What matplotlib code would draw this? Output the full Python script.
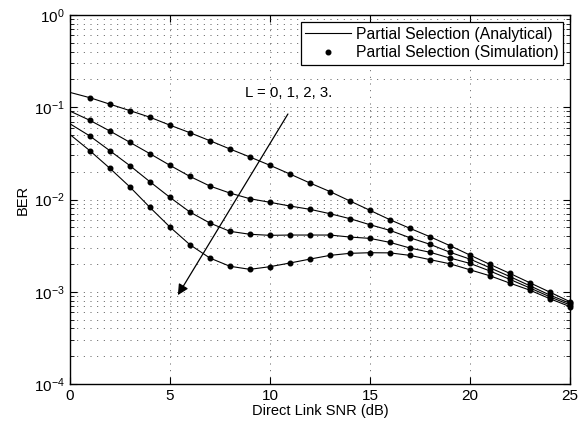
import matplotlib
matplotlib.use("Agg")
import matplotlib.pyplot as plt
from matplotlib.ticker import LogLocator, NullFormatter, MultipleLocator

plt.rcParams['font.family'] = ['Liberation Sans', 'DejaVu Sans']

# Direct link SNR (dB)
snr = list(range(0, 26))

# BER for L = 0, 1, 2, 3
ber_l0 = [0.145, 0.127, 0.108, 0.092, 0.078, 0.064, 0.053, 0.0434, 0.0353, 0.0289,
          0.0235, 0.0189, 0.0151, 0.0122, 0.00964, 0.00764, 0.00604, 0.00487, 0.00395,
          0.00316, 0.0025, 0.00198, 0.00158, 0.00125, 0.00099, 0.00078]
ber_l1 = [0.091, 0.0722, 0.0553, 0.0417, 0.0314, 0.0235, 0.0178, 0.014, 0.01175, 0.0102,
          0.00933, 0.0085, 0.00783, 0.00702, 0.0062, 0.00533, 0.00463, 0.00385, 0.00327,
          0.00268, 0.00226, 0.00182, 0.00146, 0.00116, 0.00092, 0.00075]
ber_l2 = [0.0663, 0.0488, 0.0338, 0.0233, 0.0156, 0.01056, 0.00732, 0.00556, 0.00452, 0.0042,
          0.00409, 0.00412, 0.00412, 0.00412, 0.00392, 0.00379, 0.00343, 0.00298, 0.00268,
          0.00232, 0.00203, 0.00168, 0.00136, 0.0011, 0.00088, 0.00072]
ber_l3 = [0.0508, 0.0338, 0.0218, 0.0137, 0.00822, 0.00504, 0.00324, 0.00232, 0.00189, 0.00175,
          0.00187, 0.00205, 0.00226, 0.00248, 0.00261, 0.00265, 0.00264, 0.00248, 0.00223,
          0.00201, 0.00173, 0.00149, 0.00124, 0.00104, 0.00084, 0.00069]
curves = [ber_l0, ber_l1, ber_l2, ber_l3]

fig = plt.figure(figsize=(5.87, 4.24), dpi=100)
ax = fig.add_axes([0.119, 0.0943, 0.852, 0.8703])

for i, ber in enumerate(curves):
    # analytical curve
    ax.semilogy(snr, ber, color='black', linewidth=0.8,
                label='Partial Selection (Analytical)' if i == 0 else None)
    # simulation points (from 1 dB)
    ax.semilogy(snr[1:], ber[1:], linestyle='none', marker='o', markersize=3.3,
                color='black', clip_on=False,
                label='Partial Selection (Simulation)' if i == 0 else None)

ax.set_xlim(0, 25)
ax.set_ylim(1e-4, 1e0)
ax.xaxis.set_major_locator(MultipleLocator(5))
ax.yaxis.set_major_locator(LogLocator(base=10, numticks=10))
ax.yaxis.set_minor_locator(LogLocator(base=10, subs=range(2, 10), numticks=20))
ax.yaxis.set_minor_formatter(NullFormatter())

# sparse dotted grid, matlab style
dots = (0, (1.2, 6.8))
ax.grid(True, which='major', linestyle=dots, color='#444444', linewidth=0.6)
ax.grid(True, which='minor', axis='y', linestyle=dots, color='#444444', linewidth=0.6)
ax.tick_params(which='both', direction='in', top=True, right=True, labelsize=11)
ax.tick_params(which='major', length=5)
ax.tick_params(which='minor', length=3)
for s in ax.spines.values():
    s.set_linewidth(1.0)

ax.set_xlabel('Direct Link SNR (dB)', fontsize=10.5, labelpad=1)
ax.set_ylabel('BER', fontsize=10.5, labelpad=3)

ax.annotate('', xy=(5.4, 0.00092), xytext=(10.9, 0.0845),
            arrowprops=dict(arrowstyle='-|>', color='black', lw=0.9,
                            mutation_scale=16, shrinkA=0, shrinkB=0))
ax.text(8.75, 0.1426, 'L = 0, 1, 2, 3.', fontsize=10.8, va='center', ha='left')

leg = ax.legend(loc='upper right', fontsize=11.3, frameon=True, fancybox=False,
                edgecolor='black', framealpha=1, borderaxespad=0.45,
                handlelength=2.9, handletextpad=0.3, labelspacing=0.22,
                borderpad=0.3)
leg.get_frame().set_linewidth(0.9)

fig.savefig('out.png', dpi=100)
